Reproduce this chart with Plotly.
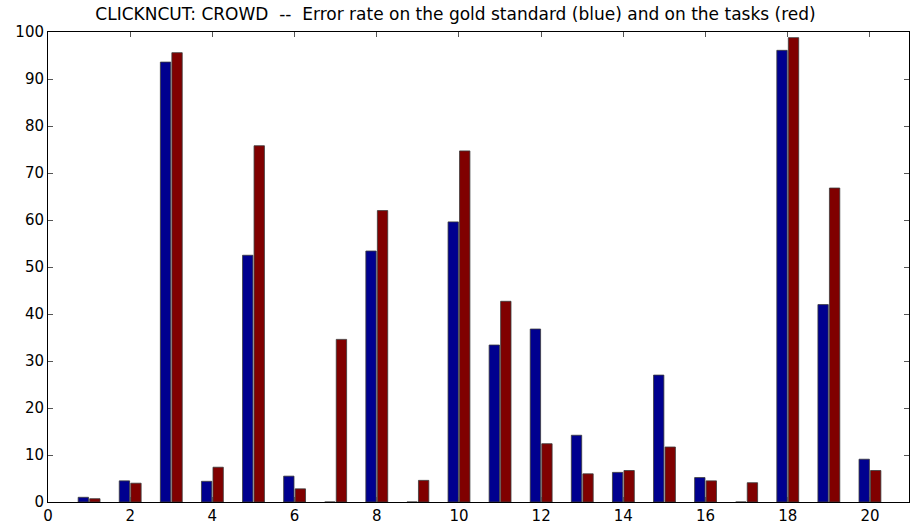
import plotly.graph_objects as go

groups = list(range(1, 21))
gold_error = [1.0, 4.5, 93.6, 4.4, 52.5, 5.5, 0, 53.4, 0, 59.6,
              33.4, 36.8, 14.2, 6.3, 27.0, 5.2, 0, 96.1, 42.0, 9.1]
task_error = [0.7, 4.0, 95.6, 7.4, 75.8, 2.8, 34.6, 62.0, 4.6, 74.7,
              42.7, 12.4, 6.0, 6.7, 11.7, 4.5, 4.1, 98.8, 66.8, 6.7]
x_ticks = list(range(0, 21, 2))
y_ticks = list(range(0, 101, 10))
title_text = "CLICKNCUT: CROWD\u00a0\u00a0--\u00a0\u00a0Error rate on the gold standard (blue) and on the tasks (red)"

fig = go.Figure()
fig.add_trace(go.Bar(x=groups, y=gold_error, name="gold",
                     marker=dict(color="#00008F", line=dict(color="#3a3a3a", width=0.8))))
fig.add_trace(go.Bar(x=groups, y=task_error, name="tasks",
                     marker=dict(color="#800000", line=dict(color="#3a3a3a", width=0.8))))

font = dict(family="DejaVu Sans, Liberation Sans, Arial", size=15, color="black")
fig.update_layout(
    width=911, height=525,
    margin=dict(l=48, r=2, t=32, b=23, autoexpand=False),
    paper_bgcolor="white", plot_bgcolor="white",
    barmode="group", bargap=0.44, bargroupgap=0.1,
    showlegend=False,
    font=font,
    title=dict(text=title_text, x=0.5, xanchor="center", y=0.974, yanchor="middle",
               font=dict(family="DejaVu Sans, Liberation Sans, Arial", size=17, color="black")),
)
fig.update_xaxes(range=[0, 20.95], tickvals=x_ticks, ticktext=[str(v) for v in x_ticks],
                 ticks="inside", ticklen=5, tickcolor="#555", mirror="ticks", automargin=False,
                 showline=True, linecolor="black", linewidth=1, showgrid=False, zeroline=False)
fig.update_yaxes(range=[0, 100], tickvals=y_ticks, ticktext=[str(v) for v in y_ticks],
                 ticks="inside", ticklen=5, tickcolor="#555", mirror="ticks", automargin=False,
                 showline=True, linecolor="black", linewidth=1, showgrid=False, zeroline=False)

fig.write_html("out.html", config={"displayModeBar": False},
               post_script="document.body.style.margin='0';document.body.style.overflow='hidden';")
